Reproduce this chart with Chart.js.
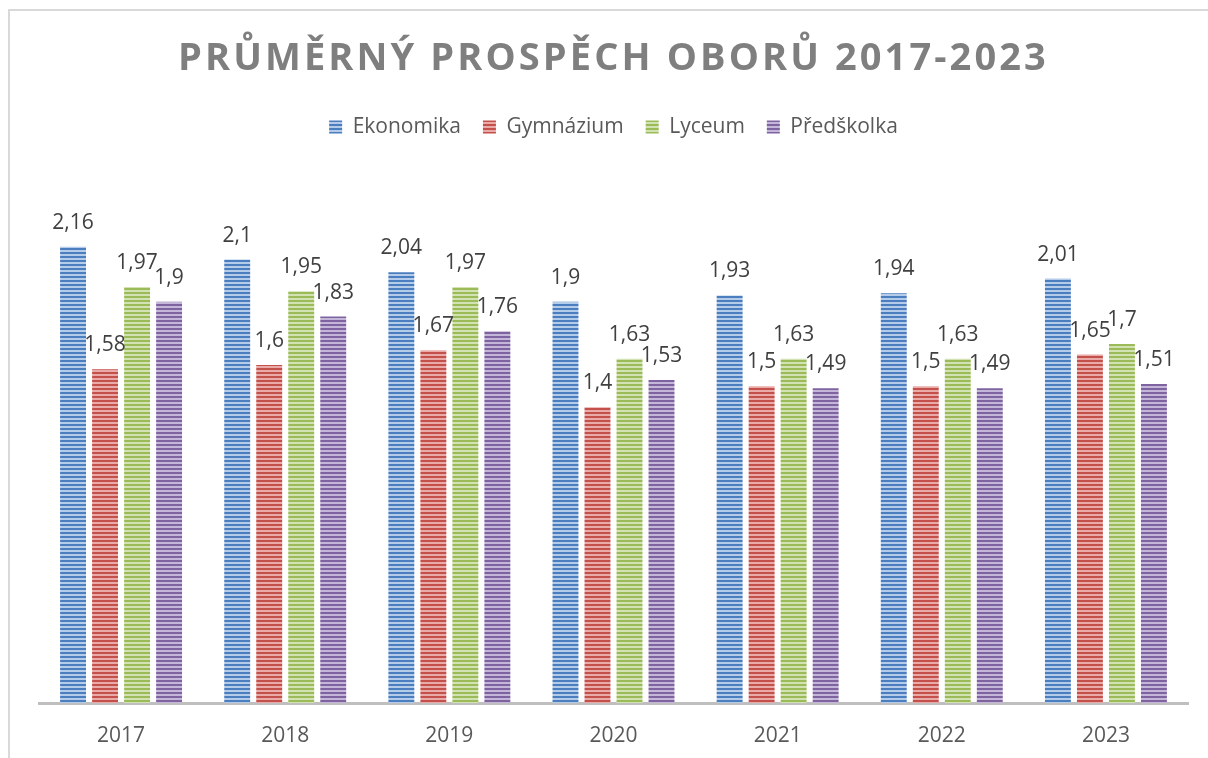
<!DOCTYPE html>
<html>
<head>
<meta charset="utf-8">
<script src="https://cdn.jsdelivr.net/npm/chart.js@4.4.1/dist/chart.umd.min.js"></script>
<style>
    html, body { margin: 0; padding: 0; background: #fff; }
    #wrap { width: 1208px; height: 758px; }
</style>
</head>
<body>
<div id="wrap"><canvas id="prospech" width="1208" height="758"></canvas></div>
<script>
// roky (kategorie)
var roky = ["2017", "2018", "2019", "2020", "2021", "2022", "2023"];
// hodnoty podle oborů
var ekonomika = [2.16, 2.1, 2.04, 1.9, 1.93, 1.94, 2.01];
var gymnazium = [1.58, 1.6, 1.67, 1.4, 1.5, 1.5, 1.65];
var lyceum = [1.97, 1.95, 1.97, 1.63, 1.63, 1.63, 1.7];
var predskolka = [1.9, 1.83, 1.76, 1.53, 1.49, 1.49, 1.51];

var nadpis = "PRŮMĚRNÝ PROSPĚCH OBORŮ 2017-2023";

// pruhovaná výplň sloupců (jako v Excelu)
function pruhy(tmava, svetla) {
    var c = document.createElement("canvas");
    c.width = 4;
    c.height = 4;
    var g = c.getContext("2d");
    g.fillStyle = svetla;
    g.fillRect(0, 0, 4, 4);
    g.fillStyle = tmava;
    g.fillRect(0, 0, 4, 2);
    return document.getElementById("prospech").getContext("2d").createPattern(c, "repeat");
}

// rámeček grafu
var ramecek = {
    id: "ramecek",
    beforeDraw: function (chart) {
        var ctx = chart.ctx;
        ctx.save();
        ctx.strokeStyle = "#d9d9d9";
        ctx.lineWidth = 2;
        ctx.beginPath();
        ctx.moveTo(9, 758);
        ctx.lineTo(9, 10);
        ctx.lineTo(1208, 10);
        ctx.stroke();
        ctx.restore();
    }
};

// proložení písmen v nadpisu
var prolozeni = {
    id: "prolozeni",
    afterLayout: function (chart) {
        var tb = chart.titleBlock;
        if (tb && !tb._prolozeno) {
            var puvodni = tb.draw.bind(tb);
            tb.draw = function () {
                chart.ctx.save();
                chart.ctx.letterSpacing = "3.1px";
                puvodni();
                chart.ctx.restore();
            };
            tb._prolozeno = true;
        }
    }
};

// popisky hodnot nad sloupci
var popisky = {
    id: "popisky",
    afterDatasetsDraw: function (chart) {
        var ctx = chart.ctx;
        ctx.save();
        ctx.font = "21px 'Open Sans'";
        ctx.fillStyle = "#404040";
        ctx.textAlign = "center";
        ctx.textBaseline = "middle";
        chart.data.datasets.forEach(function (ds, i) {
            var meta = chart.getDatasetMeta(i);
            meta.data.forEach(function (bar, j) {
                var txt = String(ds.data[j]).replace(".", ",");
                ctx.fillText(txt, bar.x, bar.y - 24);
            });
        });
        ctx.restore();
    }
};

var ctx = document.getElementById("prospech").getContext("2d");
var chart = new Chart(ctx, {
    type: "bar",
    data: {
        labels: roky,
        datasets: [
            { label: "Ekonomika", data: ekonomika, backgroundColor: pruhy("#4a7ebf", "#b4cbea") },
            { label: "Gymnázium", data: gymnazium, backgroundColor: pruhy("#c4504c", "#eaaaa8") },
            { label: "Lyceum", data: lyceum, backgroundColor: pruhy("#9bbb59", "#d2e2b3") },
            { label: "Předškolka", data: predskolka, backgroundColor: pruhy("#7f63a1", "#c4b6d8") }
        ]
    },
    options: {
        responsive: false,
        animation: false,
        categoryPercentage: 0.78,
        barPercentage: 0.81,
        layout: { padding: { top: 10, left: 39, right: 20, bottom: 0 } },
        plugins: {
            title: {
                display: true,
                text: nadpis,
                color: "#7f7f7f",
                font: { family: "'Open Sans'", size: 38, weight: "bold" },
                padding: { top: 26, bottom: 13 }
            },
            legend: {
                display: true,
                labels: {
                    color: "#595959",
                    font: { family: "'Open Sans'", size: 21 },
                    boxWidth: 13,
                    boxHeight: 13,
                    padding: 22
                }
            },
            tooltip: { enabled: false }
        },
        scales: {
            x: {
                grid: { display: false, drawTicks: false },
                border: { display: true, color: "#bfbfbf", width: 3 },
                ticks: {
                    color: "#595959",
                    font: { family: "'Open Sans'", size: 21 },
                    padding: 20
                },
                afterFit: function (scale) {
                    scale.height = 55;
                }
            },
            y: {
                display: false,
                min: 0,
                max: 2.63
            }
        }
    },
    plugins: [ramecek, prolozeni, popisky]
});
</script>
</body>
</html>
